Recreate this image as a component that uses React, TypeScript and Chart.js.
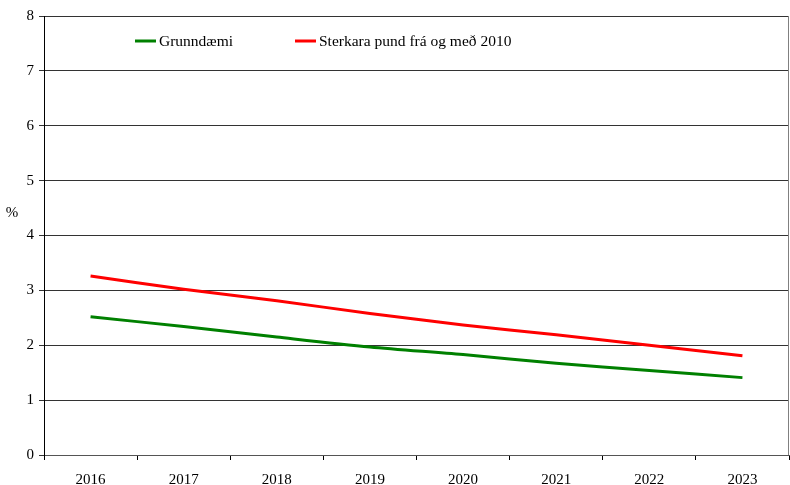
import React, { useEffect, useRef } from "react";
import { Chart, registerables } from "chart.js";

Chart.register(...registerables);

const categories = ["2016", "2017", "2018", "2019", "2020", "2021", "2022", "2023"];
const baseCase = [2.52, 2.34, 2.15, 1.97, 1.83, 1.67, 1.54, 1.41];
const strongerPound = [3.26, 3.02, 2.81, 2.58, 2.37, 2.19, 2.0, 1.81];
const seriesLabels = ["Grunndæmi", "Sterkara pund frá og með 2010"];
const yTicks = [0, 1, 2, 3, 4, 5, 6, 7, 8];
const yUnit = "%";

const FONT = "'Liberation Serif', 'Times New Roman', serif";

const overlayPlugin = {
  id: "overlay",
  afterDraw(chart: any) {
    const { ctx, chartArea } = chart;
    ctx.save();
    // right border
    ctx.strokeStyle = "#808080";
    ctx.lineWidth = 1;
    ctx.beginPath();
    ctx.moveTo(Math.round(chartArea.right) - 0.5, chartArea.top);
    ctx.lineTo(Math.round(chartArea.right) - 0.5, chartArea.bottom);
    ctx.stroke();
    // unit label
    ctx.fillStyle = "#000";
    ctx.font = `15px ${FONT}`;
    ctx.textAlign = "center";
    ctx.textBaseline = "middle";
    ctx.fillText(yUnit, 12, (chartArea.top + chartArea.bottom) / 2 - 22);
    // legend
    ctx.font = `15.5px ${FONT}`;
    const items = chart.data.datasets.map((d: any) => ({ label: d.label, color: d.borderColor }));
    const offsets = [91, 251];
    const ly = chartArea.top + 25;
    items.forEach((it: any, i: number) => {
      const x0 = chartArea.left + offsets[i];
      ctx.strokeStyle = it.color;
      ctx.lineWidth = 3;
      ctx.beginPath();
      ctx.moveTo(x0, ly);
      ctx.lineTo(x0 + 21, ly);
      ctx.stroke();
      ctx.fillStyle = "#000";
      ctx.textAlign = "left";
      ctx.textBaseline = "middle";
      ctx.fillText(it.label, x0 + 24, ly + 1);
    });
    ctx.restore();
  },
};

export default function App() {
  const ref = useRef<HTMLCanvasElement>(null);
  useEffect(() => {
    if (!ref.current) return;
    const chart = new Chart(ref.current, {
      type: "line",
      data: {
        labels: categories,
        datasets: [
          {
            label: seriesLabels[0],
            data: baseCase,
            borderColor: "#008000",
            backgroundColor: "#008000",
            borderWidth: 3,
            pointRadius: 0,
            tension: 0.3,
          },
          {
            label: seriesLabels[1],
            data: strongerPound,
            borderColor: "#FF0000",
            backgroundColor: "#FF0000",
            borderWidth: 3,
            pointRadius: 0,
            tension: 0.3,
          },
        ],
      },
      options: {
        animation: false,
        responsive: false,
        layout: { padding: { top: 16, right: 1, left: 0, bottom: 0 } },
        plugins: { legend: { display: false }, tooltip: { enabled: false } },
        scales: {
          x: {
            offset: true,
            grid: {
              offset: true,
              drawOnChartArea: false,
              drawTicks: true,
              tickLength: 5,
              color: "#000",
            },
            border: { color: "#555", width: 1 },
            ticks: { color: "#000", font: { family: FONT, size: 15 }, padding: 11, maxRotation: 0 },
            afterFit(scale: any) {
              scale.height = 30;
            },
          },
          y: {
            min: 0,
            max: 8,
            afterBuildTicks(scale: any) {
              scale.ticks = yTicks.map((v) => ({ value: v }));
            },
            grid: { color: "#333", lineWidth: 1, tickLength: 5, drawTicks: true },
            border: { color: "#000", width: 1 },
            ticks: { color: "#000", font: { family: FONT, size: 15 }, padding: 5 },
            afterFit(scale: any) {
              scale.width = 44;
            },
          },
        },
      },
      plugins: [overlayPlugin],
    });
    return () => chart.destroy();
  }, []);
  return (
    <div style={{ position: "fixed", left: 0, top: 0, width: 790, height: 485, background: "#fff" }}>
      <canvas ref={ref} width={790} height={485} style={{ width: 790, height: 485 }} />
    </div>
  );
}
